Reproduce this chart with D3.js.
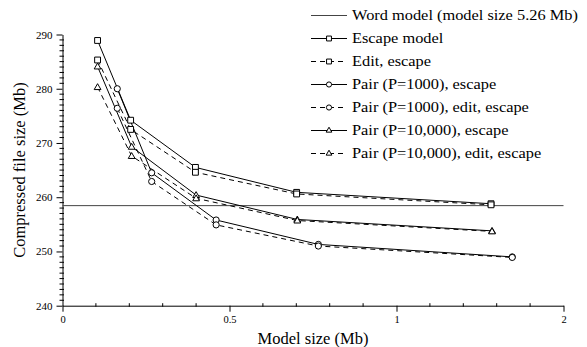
<!DOCTYPE html>
<html>
<head>
<meta charset="utf-8">
<script src="https://cdn.jsdelivr.net/npm/d3@7"></script>
<style>
	body { margin: 0; background: #fff; }
	svg text { font-family: "Liberation Serif", "Times New Roman", serif; fill: #000; }
</style>
</head>
<body>
<svg id="chart" width="587" height="347"></svg>
<script>
// tick labels
const xTicks = [0, 0.5, 1, 2];
const yTicks = [240, 250, 260, 270, 280, 290];

// word model compressed size (flat reference line)
const wordModel = 258.45;

// escape model, with and without edit
const escapeX = [0.105, 0.204, 0.398, 0.701, 1.566];
const escapeY = [288.9, 274.2, 265.5, 260.9, 258.8];
const editEscapeY = [285.3, 272.5, 264.6, 260.6, 258.6];

// pair model, P=1000
const pair1000X = [0.164, 0.267, 0.460, 0.766, 1.693];
const pair1000Y = [280.0, 264.5, 255.8, 251.3, 249.0];
const pair1000EditY = [276.4, 262.9, 254.9, 251.0, 248.9];

// pair model, P=10,000
const pair10kX = [0.105, 0.207, 0.400, 0.703, 1.572];
const pair10kY = [284.1, 269.3, 260.4, 255.9, 253.8];
const pair10kEditY = [280.3, 267.6, 259.8, 255.7, 253.7];

const legendNames = [
	'Word model (model size 5.26 Mb)',
	'Escape model',
	'Edit, escape',
	'Pair (P=1000), escape',
	'Pair (P=1000), edit, escape',
	'Pair (P=10,000), escape',
	'Pair (P=10,000), edit, escape'
];

const series = [
	{ xs: escapeX, ys: escapeY, shape: d3.symbolSquare, dashed: false },
	{ xs: escapeX, ys: editEscapeY, shape: d3.symbolSquare, dashed: true },
	{ xs: pair1000X, ys: pair1000Y, shape: d3.symbolCircle, dashed: false },
	{ xs: pair1000X, ys: pair1000EditY, shape: d3.symbolCircle, dashed: true },
	{ xs: pair10kX, ys: pair10kY, shape: d3.symbolTriangle, dashed: false },
	{ xs: pair10kX, ys: pair10kEditY, shape: d3.symbolTriangle, dashed: true }
];

const FONT = '"Liberation Serif", "Times New Roman", serif';
const mLeft = 62.5, mRight = 563.5, mTop = 34.5, mBottom = 305.7;
const dash = '5,4';
const shapeSize = { square: 34, circle: 30, triangle: 20 };

// the x axis puts 0, 0.5, 1 and 2 at equal distances
let x = d3.scaleLinear()
	.domain(xTicks)
	.range(xTicks.map((d, i) => mLeft + i * (mRight - mLeft) / (xTicks.length - 1)));

let y = d3.scaleLinear()
	.domain([d3.min(yTicks), d3.max(yTicks)])
	.range([mBottom, mTop]);

let svg = d3.select('#chart');

function sizeOf(shape) {
	if (shape === d3.symbolSquare) return shapeSize.square;
	if (shape === d3.symbolCircle) return shapeSize.circle;
	return shapeSize.triangle;
}

// axes
let yAxis = svg.append('g')
	.attr('transform', `translate(${mLeft},0)`)
	.call(d3.axisLeft(y).tickValues(yTicks).tickSizeInner(6).tickSizeOuter(0).tickPadding(4));

let xAxis = svg.append('g')
	.attr('transform', `translate(0,${mBottom})`)
	.call(d3.axisBottom(x).tickValues(xTicks).tickFormat(d => `${d}`).tickSizeInner(6).tickSizeOuter(0).tickPadding(4));

[yAxis, xAxis].forEach(g => {
	g.attr('font-family', FONT).attr('font-size', null);
	g.select('.domain').attr('stroke', '#000');
	g.selectAll('.tick line').attr('stroke', '#000');
	g.selectAll('text').attr('font-family', FONT);
});
yAxis.selectAll('text').style('font-size', '11px');
xAxis.selectAll('text').style('font-size', '10.5px');

// minor ticks
let yMinor = d3.range(d3.min(yTicks), d3.max(yTicks) + 1, 1).filter(d => !yTicks.includes(d));
svg.append('g').selectAll('line').data(yMinor).enter().append('line')
	.attr('x1', mLeft - 3).attr('x2', mLeft + 1.5)
	.attr('y1', d => y(d)).attr('y2', d => y(d))
	.attr('stroke', '#000');

let xMinor = [];
for (let i = 0; i < xTicks.length - 1; i++) {
	let step = (xTicks[i + 1] - xTicks[i]) / 5;
	for (let k = 1; k < 5; k++) xMinor.push(xTicks[i] + k * step);
}
svg.append('g').selectAll('line').data(xMinor).enter().append('line')
	.attr('x1', d => x(d)).attr('x2', d => x(d))
	.attr('y1', mBottom - 2.5).attr('y2', mBottom + 1)
	.attr('stroke', '#000');

// axis titles
svg.append('text')
	.attr('x', (mLeft + mRight) / 2).attr('y', 344)
	.attr('text-anchor', 'middle')
	.attr('font-family', FONT)
	.style('font-size', '16.5px')
	.text('Model size (Mb)');

svg.append('text')
	.attr('transform', `translate(25,${(mTop + mBottom) / 2}) rotate(-90)`)
	.attr('text-anchor', 'middle')
	.attr('font-family', FONT)
	.style('font-size', '16.5px')
	.text('Compressed file size (Mb)');

// word model line
svg.append('line')
	.attr('x1', mLeft).attr('x2', mRight)
	.attr('y1', y(wordModel)).attr('y2', y(wordModel))
	.attr('stroke', '#444').attr('stroke-width', 1);

// series lines
let line = d3.line().x(d => x(d[0])).y(d => y(d[1]));

series.forEach(s => {
	let pts = s.xs.map((v, i) => [v, s.ys[i]]);
	svg.append('path')
		.attr('d', line(pts))
		.attr('fill', 'none')
		.attr('stroke', '#000')
		.attr('stroke-width', 1)
		.attr('stroke-dasharray', s.dashed ? dash : null);
});

series.forEach(s => {
	let sym = d3.symbol().type(s.shape).size(sizeOf(s.shape));
	svg.append('g').selectAll('path')
		.data(s.xs.map((v, i) => [v, s.ys[i]]))
		.enter().append('path')
		.attr('d', sym)
		.attr('transform', d => `translate(${x(d[0])},${y(d[1]) + (s.shape === d3.symbolTriangle ? 0.5 : 0)})`)
		.attr('fill', '#fff')
		.attr('stroke', '#000')
		.attr('stroke-width', 1);
});

// legend
let legend = svg.append('g');
let rowY = (i) => 15.5 + i * 23;
legendNames.forEach((name, i) => {
	let ry = rowY(i);
	let s = i === 0 ? null : series[i - 1];
	legend.append('line')
		.attr('x1', 311).attr('x2', 347)
		.attr('y1', ry).attr('y2', ry)
		.attr('stroke', i === 0 ? '#444' : '#000')
		.attr('stroke-dasharray', s && s.dashed ? dash : null);
	if (s) {
		legend.append('path')
			.attr('d', d3.symbol().type(s.shape).size(sizeOf(s.shape) * 0.7))
			.attr('transform', `translate(329,${ry})`)
			.attr('fill', '#fff')
			.attr('stroke', '#000');
	}
	// legend lettering is wider than it is tall in the original
	legend.append('g')
		.attr('transform', `translate(352,${ry + 4}) scale(1.17,1)`)
		.append('text')
		.attr('font-family', FONT)
		.style('font-size', '14px')
		.text(name);
});
</script>
</body>
</html>
